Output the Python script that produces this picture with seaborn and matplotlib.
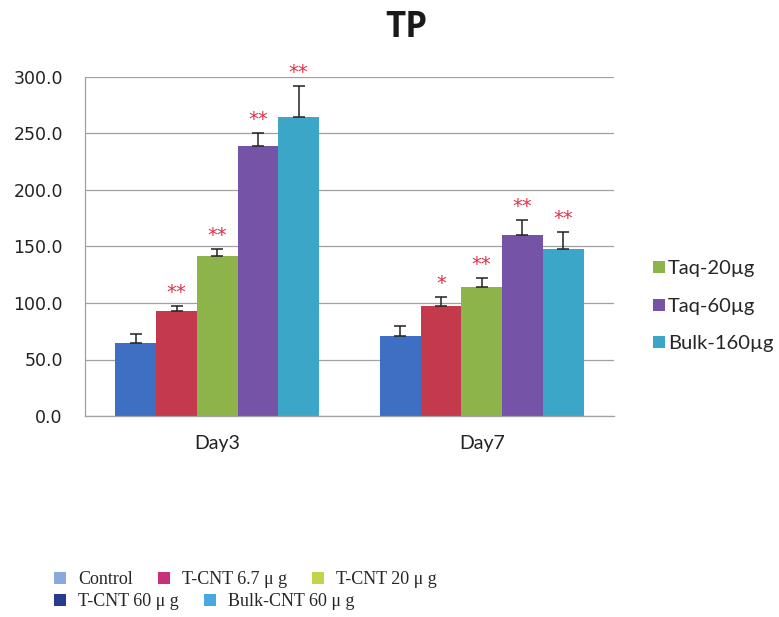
import matplotlib
matplotlib.use("Agg")
import matplotlib.pyplot as plt
from matplotlib.lines import Line2D
import pandas as pd
import seaborn as sns

# ---- data ----
days = ["Day3", "Day7"]
groups = ["Control", "T-CNT 6.7", "T-CNT 20", "T-CNT 60", "Bulk-CNT 60"]
means_day3 = [64.5, 92.5, 141.5, 239.0, 265.0]
means_day7 = [71.0, 97.5, 114.5, 160.5, 147.5]
err_day3 = [8.0, 4.5, 6.5, 11.0, 27.0]
err_day7 = [9.0, 7.5, 7.5, 13.0, 15.0]
stars_day3 = ["", "**", "**", "**", "**"]
stars_day7 = ["", "*", "**", "**", "**"]
y_ticks = [0, 50, 100, 150, 200, 250, 300]

bar_colors = ["#3e6fc2", "#c23a4c", "#8db44a", "#7553a6", "#3ca6c9"]
side_labels = ["Taq-20µg", "Taq-60µg", "Bulk-160µg"]
side_colors = ["#8db44a", "#7553a6", "#3ca6c9"]
bottom_row1 = ["Control", "T-CNT 6.7 μ g", "T-CNT 20 μ g"]
bottom_row1_colors = ["#8aa8dc", "#c8307a", "#c4d44a"]
bottom_row2 = ["T-CNT 60 μ g", "Bulk-CNT 60 μ g"]
bottom_row2_colors = ["#283c8c", "#4aa8e0"]

rows = []
for d, means, errs, stars in [(days[0], means_day3, err_day3, stars_day3),
                              (days[1], means_day7, err_day7, stars_day7)]:
    for g, m, e, s in zip(groups, means, errs, stars):
        rows.append({"day": d, "group": g, "value": m, "err": e, "star": s})
df = pd.DataFrame(rows)

sns.set_theme(style="white")
plt.rcParams["font.family"] = ["DejaVu Sans"]

fig = plt.figure(figsize=(7.79, 6.17), dpi=100)
ax = fig.add_axes([85 / 779, 1 - 416 / 617, (614 - 85) / 779, (416 - 77) / 617])

sns.barplot(data=df, x="day", y="value", hue="group", hue_order=groups,
            palette=bar_colors, width=0.77, gap=0, saturation=1,
            errorbar=None, legend=False, linewidth=0, ax=ax)

# upper-only error bars and significance stars
for g, cont in zip(groups, ax.containers):
    sub = df[df["group"] == g].set_index("day").loc[days]
    for bar, (_, r) in zip(cont, sub.iterrows()):
        xc = bar.get_x() + bar.get_width() / 2
        top = bar.get_height()
        ax.errorbar(xc, top, yerr=[[0], [r["err"]]], fmt="none",
                    ecolor="#222222", elinewidth=1.1, capsize=4, capthick=1.1)
        if r["star"]:
            ax.annotate(r["star"], (xc, top + r["err"]), xytext=(0, 3),
                        textcoords="offset points", ha="center", va="bottom",
                        color="#e0304c", fontsize=14)

ax.set_ylim(0, 300)
ax.set_xlim(-0.5, 1.5)
ax.set_yticks(y_ticks)
ax.set_yticklabels([f"{v:.1f}" for v in y_ticks])
ax.yaxis.grid(True, color="#a0a0a0", linewidth=0.9)
ax.set_axisbelow(True)
ax.set_xlabel("")
ax.set_ylabel("")
ax.tick_params(axis="y", length=0, pad=16, labelsize=12.5, labelcolor="#222222")
ax.tick_params(axis="x", length=0, pad=14, labelsize=14, labelcolor="#222222")
for lab in ax.get_xticklabels():
    lab.set_family("Lato")
for side in ["top", "right"]:
    ax.spines[side].set_visible(False)
for side in ["left", "bottom"]:
    ax.spines[side].set_color("#a0a0a0")
    ax.spines[side].set_linewidth(0.9)

fig.text(406 / 779, 1 - 28 / 617, "TP", ha="center", va="center",
         fontsize=25, fontweight="bold", family="Open Sans", color="#1a1a1a")

# right-hand legend
side_handles = [Line2D([], [], marker="s", linestyle="none", markersize=8,
                       markerfacecolor=c, markeredgewidth=0) for c in side_colors]
fig.legend(side_handles, side_labels, loc="center left",
           bbox_to_anchor=(653 / 779, 1 - 306 / 617), frameon=False,
           prop={"family": "Lato", "size": 14.5}, handletextpad=0.15,
           labelspacing=1.0, handlelength=0.6, borderpad=0,
           borderaxespad=0)

# bottom legend, two rows
for labels, colors, yc in [(bottom_row1, bottom_row1_colors, 580),
                           (bottom_row2, bottom_row2_colors, 602)]:
    hs = [Line2D([], [], marker="s", linestyle="none", markersize=8,
                 markerfacecolor=c, markeredgewidth=0) for c in colors]
    fig.legend(hs, labels, loc="center left", ncol=len(labels),
               bbox_to_anchor=(55 / 779, 1 - yc / 617), frameon=False,
               prop={"family": "Liberation Serif", "size": 13},
               handletextpad=0.7, columnspacing=1.4, handlelength=0.6,
               borderpad=0, borderaxespad=0)

fig.savefig("out.png", dpi=100, facecolor="white")
